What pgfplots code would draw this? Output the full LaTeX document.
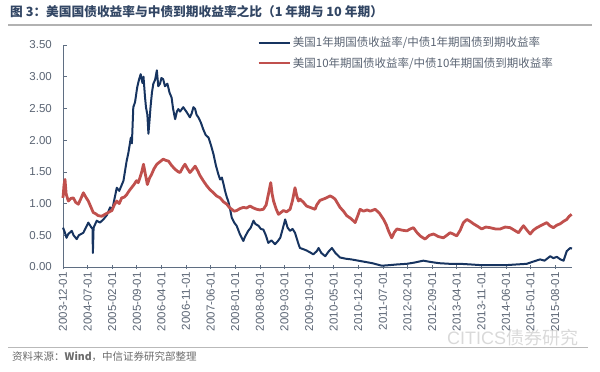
\documentclass[border=0pt]{standalone}
\usepackage{fontspec}
\setmainfont{Liberation Sans}
\newfontfamily\cjk{Noto Sans CJK SC}
\usepackage{pgfplots}
\pgfplotsset{compat=1.18}
\definecolor{navy}{RGB}{23,52,96}
\definecolor{redl}{RGB}{192,80,77}
\definecolor{axc}{RGB}{95,110,130}
\definecolor{txt}{RGB}{90,100,115}
\definecolor{ttl}{RGB}{50,70,100}
\begin{document}
\begin{tikzpicture}
\path[use as bounding box] (0,0) rectangle (600bp,372bp);
\node[anchor=west, inner sep=0pt, text=ttl, font=\cjk\bfseries\fontsize{12.7bp}{14bp}\selectfont] at (10bp,360bp) {图 3：美国国债收益率与中债到期收益率之比（1 年期与 10 年期）};
\draw[gray!60, line width=1.6bp] (8bp,347bp) -- (592bp,347bp);
\draw[gray!55, line width=0.8bp] (8bp,25bp) -- (588bp,25bp);
\node[anchor=west, inner sep=0pt, text=gray!85!black, font=\cjk\fontsize{10.5bp}{12bp}\selectfont] at (12bp,15bp) {资料来源：\textbf{Wind}，中信证券研究部整理};
\node[anchor=west, inner sep=0pt, text=gray!30, font=\fontsize{18bp}{20bp}\selectfont] at (447bp,34bp) {CITICS{\cjk 债券研究}};
\begin{axis}[
  at={(63bp,105bp)}, anchor=south west,
  scale only axis, width=509bp, height=222bp,
  xmin=0, xmax=144.8, ymin=0, ymax=3.5,
  axis x line=bottom, axis y line=left,
  axis line style={-, draw=axc, line width=0.8bp},
  xtick={0,7,...,140},
  xticklabels={2003-12-01,2004-07-01,2005-02-01,2005-09-01,2006-04-01,2006-11-01,2007-06-01,2008-01-01,2008-08-01,2009-03-01,2009-10-01,2010-05-01,2010-12-01,2011-07-01,2012-02-01,2012-09-01,2013-04-01,2013-11-01,2014-06-01,2015-01-01,2015-08-01},
  ytick={0,0.5,...,3.5},
  xtick align=center, ytick align=inside,
  major tick length=4bp,
  tick style={draw=axc, line width=0.7bp},
  yticklabel style={/pgf/number format/fixed, /pgf/number format/fixed zerofill, /pgf/number format/precision=2, /pgf/number format/assume math mode=true, anchor=east, inner sep=0pt, xshift=-11bp},
  xticklabel style={yshift=-3bp, rotate=90, anchor=east, inner sep=0pt},
  tick label style={font=\fontsize{11.5bp}{13bp}\selectfont, text=txt},
  legend style={at={(axis description cs:0.381,1.045)}, anchor=north west, draw=none, fill=none, inner sep=0pt, row sep=5bp, font=\cjk\fontsize{11.5bp}{13bp}\selectfont, text=txt},
  legend image code/.code={\draw[#1] (0bp,0bp) -- (31bp,0bp);},
  legend cell align=left,
  clip=false,
]
\addplot[navy, line width=2bp, line join=round] table {
x y
0 0.62
0.5 0.55
1.0 0.46
1.5 0.52
2.5 0.57
3.0 0.50
3.9 0.44
4.5 0.50
5.8 0.54
6.5 0.62
7.2 0.70
8.0 0.63
8.4 0.60
8.5 0.22
8.7 0.62
9.6 0.73
10.5 0.70
11.5 0.75
12.5 0.82
13.4 0.94
14.0 0.90
15.3 1.25
16.0 1.20
17.2 1.36
18.1 1.67
18.6 1.80
19.3 2.04
19.6 1.95
20.0 2.52
20.5 2.60
21.1 2.83
21.6 2.95
22.1 3.04
22.6 2.90
22.9 3.00
23.3 2.70
23.6 2.52
24.0 2.40
24.3 2.10
24.6 2.30
24.9 2.52
25.3 2.75
25.7 2.89
26.2 2.95
26.7 3.10
27.1 2.85
27.6 2.89
28.0 2.98
28.5 2.96
29.0 2.85
29.7 2.89
30.3 2.75
30.9 2.67
31.3 2.50
31.9 2.33
32.4 2.45
32.8 2.49
33.3 2.45
34.2 2.52
34.7 2.48
35.2 2.44
36.1 2.36
36.6 2.42
37.1 2.52
37.6 2.49
38.0 2.40
38.5 2.36
39.2 2.28
39.9 2.17
40.6 2.08
41.4 2.04
42.1 1.92
42.8 1.78
43.5 1.60
44.2 1.46
44.7 1.38
45.2 1.41
45.7 1.30
46.1 1.20
46.6 1.10
47.0 1.04
47.5 0.92
48.0 0.78
48.7 0.70
49.4 0.65
50.3 0.52
51.3 0.41
51.8 0.48
52.7 0.57
53.4 0.62
54.2 0.73
54.7 0.68
55.6 0.65
56.3 0.60
57.0 0.59
57.7 0.50
58.4 0.38
59.3 0.42
60.3 0.36
61.0 0.40
61.8 0.46
62.5 0.60
63.2 0.75
63.9 0.62
64.6 0.57
65.3 0.60
66.0 0.54
66.5 0.45
67.0 0.36
67.4 0.30
68.4 0.28
69.3 0.26
70.3 0.23
71.2 0.20
72.2 0.25
72.7 0.30
73.5 0.22
74.6 0.17
75.5 0.24
76.5 0.30
77.5 0.22
78.8 0.15
80.5 0.13
82.0 0.12
84.0 0.10
86.0 0.08
88.0 0.06
90.7 0.02
93.0 0.03
95.0 0.04
97.8 0.05
100.0 0.07
102.5 0.10
104.5 0.08
107.0 0.06
110.1 0.05
113.0 0.05
116.0 0.04
118.7 0.03
122.0 0.03
126.2 0.03
129.0 0.04
131.9 0.05
133.5 0.08
135.7 0.12
137.0 0.10
138.6 0.17
139.5 0.14
140.5 0.16
141.5 0.12
142.4 0.10
143.3 0.25
144.3 0.30
144.8 0.29
};
\addlegendentry{美国1年期国债收益率/中债1年期国债到期收益率}
\addplot[redl, line width=2.8bp, line join=round] table {
x y
0 1.09
0.3 1.30
0.57 1.38
0.9 1.15
1.52 1.04
2.2 1.08
2.94 1.09
3.6 1.02
4.36 0.99
5.1 1.08
5.8 1.17
6.5 1.10
7.2 1.04
7.9 0.95
8.6 0.86
9.3 0.84
10.0 0.81
11.0 0.80
11.95 0.83
12.9 0.86
13.9 0.89
14.6 0.98
15.3 1.04
16.0 1.00
16.7 1.09
17.4 1.10
18.1 1.14
18.8 1.20
19.5 1.25
20.2 1.30
20.9 1.36
21.4 1.33
21.9 1.41
22.4 1.50
22.9 1.62
23.3 1.50
24.0 1.30
24.6 1.40
25.2 1.46
25.9 1.55
26.7 1.62
27.6 1.66
28.5 1.70
29.3 1.68
30.0 1.67
30.9 1.60
31.9 1.54
32.8 1.50
33.3 1.49
34.2 1.58
34.7 1.62
35.4 1.55
36.1 1.49
36.6 1.52
37.6 1.59
38.3 1.52
39.0 1.44
39.9 1.36
40.9 1.28
41.8 1.22
42.8 1.17
43.7 1.12
44.7 1.09
45.6 1.03
46.6 0.99
47.3 0.94
48.0 0.91
48.7 0.88
49.4 0.89
50.3 0.92
51.3 0.94
52.2 0.93
53.2 0.96
54.2 0.93
55.1 0.91
56.0 0.90
57.0 0.91
57.8 0.98
58.4 1.14
59.1 1.33
59.5 1.15
59.9 1.04
60.6 0.92
61.3 0.83
62.0 0.86
62.7 0.89
63.6 0.87
64.6 0.91
65.3 1.05
66.0 1.25
66.5 1.12
67.0 1.04
67.4 1.07
68.4 1.02
69.3 0.96
70.3 0.94
71.2 0.92
71.7 0.91
72.2 0.98
73.1 1.05
74.5 1.08
76.0 1.12
76.7 1.10
77.4 1.07
78.8 0.94
79.8 0.88
80.7 0.81
82.0 0.76
83.1 0.70
83.8 0.80
84.5 0.91
85.5 0.88
86.5 0.90
87.4 0.88
88.8 0.91
90.0 0.85
91.2 0.75
92.0 0.66
92.6 0.57
93.5 0.46
94.3 0.55
95.0 0.60
96.5 0.58
97.8 0.57
98.8 0.60
99.7 0.62
100.6 0.55
101.6 0.49
103.0 0.44
104.2 0.50
105.4 0.52
106.8 0.48
108.2 0.46
109.2 0.50
110.1 0.54
111.0 0.52
112.0 0.49
113.0 0.58
113.9 0.70
114.9 0.75
115.8 0.72
116.8 0.68
118.0 0.64
119.1 0.60
120.3 0.63
121.5 0.62
123.0 0.60
124.4 0.60
125.8 0.63
127.2 0.62
128.4 0.58
129.6 0.54
130.3 0.60
131.0 0.65
132.0 0.58
132.9 0.52
133.8 0.58
134.8 0.62
136.2 0.66
137.6 0.70
138.5 0.65
139.5 0.62
140.5 0.66
141.4 0.68
142.4 0.72
143.3 0.75
144.0 0.80
144.7 0.83
};
\addlegendentry{美国10年期国债收益率/中债10年期国债到期收益率}
\end{axis}
\end{tikzpicture}
\end{document}
